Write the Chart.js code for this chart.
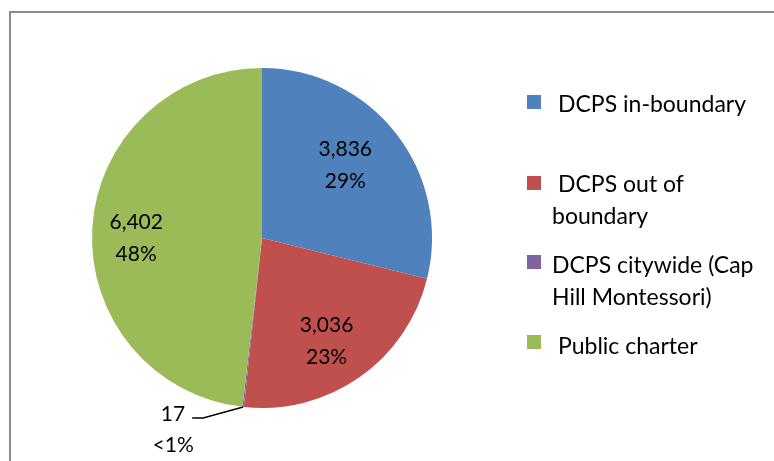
<!DOCTYPE html>
<html>
<head>
<meta charset="utf-8">
<script src="https://cdn.jsdelivr.net/npm/chart.js@4.4.0/dist/chart.umd.min.js"></script>
<style>
  body { margin: 0; background: #fff; }
  #wrap { position: relative; width: 774px; height: 461px; overflow: hidden; }
  #frame { position: absolute; left: 9px; top: 11px; width: 800px; height: 500px; border: 2px solid #8c8c8c; box-sizing: border-box; }
  canvas { position: absolute; left: 0; top: 0; }
</style>
</head>
<body>
<div id="wrap">
  <div id="frame"></div>
  <canvas id="chart" width="774" height="461"></canvas>
</div>
<script>
const categories = ['DCPS in-boundary', 'DCPS out of boundary', 'DCPS citywide (Cap Hill Montessori)', 'Public charter'];
const legendLines = [['DCPS in-boundary'], ['DCPS out of', 'boundary'], ['DCPS citywide (Cap', 'Hill Montessori)'], ['Public charter']];
const counts = [3836, 3036, 17, 6402];
const percentLabels = ['29%', '23%', '<1%', '48%'];
const colors = ['#4F81BD', '#C0504D', '#8064A2', '#9BBB59'];

const LABEL_FONT = '21px Lato, "Open Sans", sans-serif';
const LEGEND_FONT = '23px Lato, "Open Sans", sans-serif';

// label anchor relative to pie centre, in units of the radius
const labelOffset = [[0.49, -0.43], [0.38, 0.61], null, [-0.74, 0]];

const sliceLabels = {
    id: 'sliceLabels',
    afterDatasetsDraw(chart) {
        const ctx = chart.ctx;
        const meta = chart.getDatasetMeta(0);
        ctx.save();
        ctx.font = LABEL_FONT;
        ctx.fillStyle = '#000';
        ctx.textAlign = 'center';
        ctx.textBaseline = 'middle';
        meta.data.forEach((arc, i) => {
            const num = counts[i].toLocaleString('en-US');
            if (!labelOffset[i]) {
                // tiny slice: leader line out to the label
                const mid = (arc.startAngle + arc.endAngle) / 2;
                const ex = arc.x + Math.cos(mid) * arc.outerRadius;
                const ey = arc.y + Math.sin(mid) * arc.outerRadius;
                ctx.strokeStyle = '#000';
                ctx.lineWidth = 1.5;
                ctx.beginPath();
                ctx.moveTo(ex, ey);
                ctx.lineTo(ex - 40, ey + 11);
                ctx.lineTo(ex - 51, ey + 11);
                ctx.stroke();
                ctx.textAlign = 'right';
                ctx.fillText(num, ex - 58, ey + 7);
                ctx.textAlign = 'center';
                ctx.fillText(percentLabels[i], ex - 70, ey + 38);
                return;
            }
            const x = arc.x + labelOffset[i][0] * arc.outerRadius;
            const y = arc.y + labelOffset[i][1] * arc.outerRadius;
            ctx.fillText(num, x, y - 16);
            ctx.fillText(percentLabels[i], x, y + 16);
        });
        ctx.restore();
    }
};

const sideLegend = {
    id: 'sideLegend',
    afterDraw(chart) {
        const ctx = chart.ctx;
        const boxTop = [95, 176, 255, 335];
        const baseline = [112, 192, 273, 354];
        ctx.save();
        ctx.font = LEGEND_FONT;
        ctx.textBaseline = 'alphabetic';
        ctx.textAlign = 'left';
        categories.forEach((c, i) => {
            ctx.fillStyle = colors[i];
            ctx.fillRect(527, boxTop[i], 14, 14);
            ctx.fillStyle = '#000';
            legendLines[i].forEach((line, j) => {
                const x = (j === 0 && i !== 2) ? 558 : 552;
                ctx.fillText(line, x, baseline[i] + j * 32);
            });
        });
        ctx.restore();
    }
};

new Chart(document.getElementById('chart'), {
    type: 'pie',
    data: {
        labels: categories,
        datasets: [{
            data: counts,
            backgroundColor: colors,
            borderWidth: 0,
            hoverOffset: 0
        }]
    },
    options: {
        responsive: false,
        animation: false,
        layout: { padding: { left: 92, right: 342, top: 68, bottom: 53 } },
        plugins: { legend: { display: false }, tooltip: { enabled: false } }
    },
    plugins: [sliceLabels, sideLegend]
});
</script>
</body>
</html>
